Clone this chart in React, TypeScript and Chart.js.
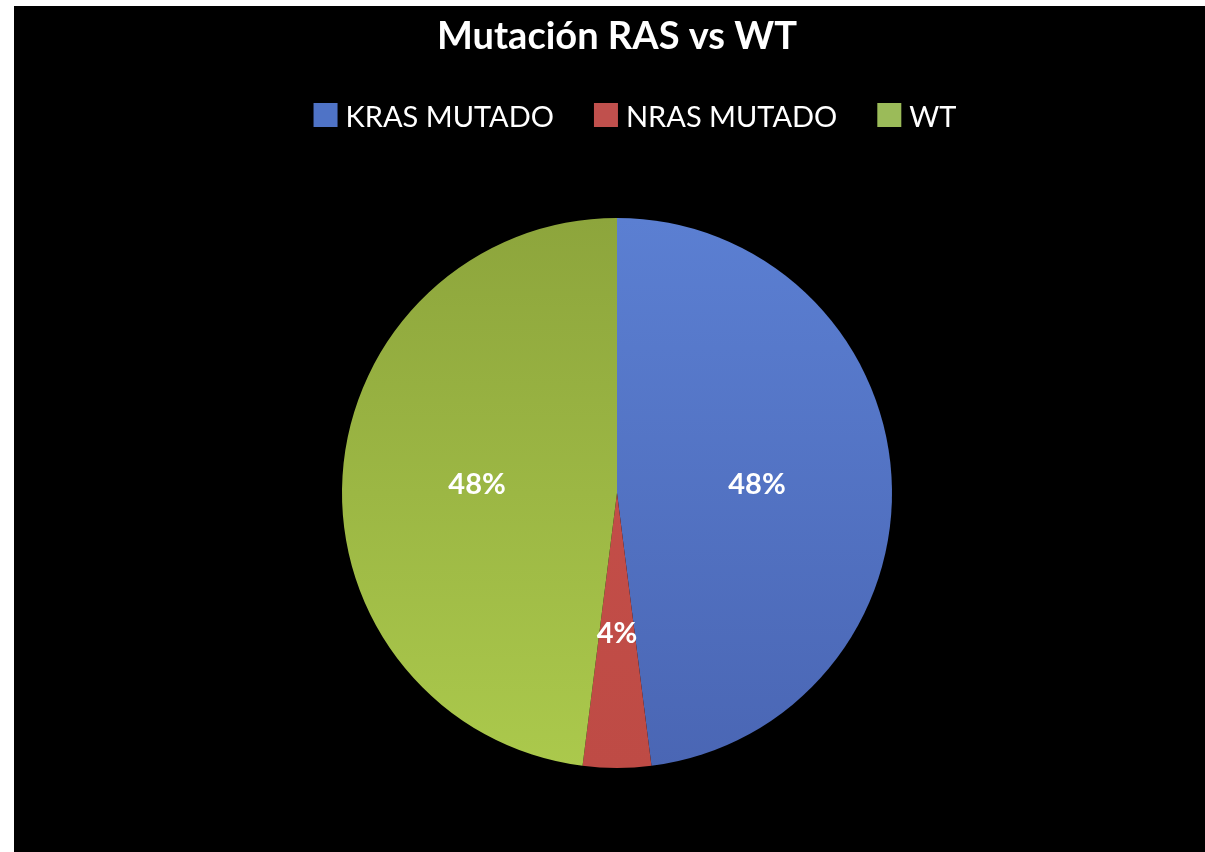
import React, { useEffect, useRef } from "react";
import { Chart, registerables } from "chart.js";

Chart.register(...registerables);

const TITLE = "Mutación RAS vs WT";
const categories = ["KRAS MUTADO", "NRAS MUTADO", "WT"];
const values = [48, 4, 48];
const valueLabels = ["48%", "4%", "48%"];
const colorsTop = ["#5B7FD2", "#C8504B", "#8DA53C"];
const colorsBottom = ["#4A66B4", "#BE4B45", "#ABC94C"];
const legendColors = ["#4F73C6", "#C0504D", "#9BBB59"];

const FONT = "Lato, 'Open Sans', sans-serif";

const dataLabelPlugin = {
  id: "excelDataLabels",
  afterDatasetsDraw(chart: any) {
    const ctx = chart.ctx;
    const meta = chart.getDatasetMeta(0);
    ctx.save();
    ctx.fillStyle = "#ffffff";
    ctx.font = `bold 29px ${FONT}`;
    ctx.textAlign = "center";
    ctx.textBaseline = "middle";
    meta.data.forEach((arc: any, i: number) => {
      const p = arc.getProps(["x", "y", "startAngle", "endAngle", "outerRadius"], true);
      const mid = (p.startAngle + p.endAngle) / 2;
      const r = p.outerRadius * 0.51;
      ctx.fillText(valueLabels[i], p.x + Math.cos(mid) * r, p.y + Math.sin(mid) * r);
    });
    ctx.restore();
  },
};

const legendPlugin = {
  id: "excelLegend",
  afterDraw(chart: any) {
    const ctx = chart.ctx;
    ctx.save();
    const fontSize = 29;
    ctx.font = `${fontSize}px ${FONT}`;
    const box = 24;
    const gap = 8;
    const spacing = 40;
    const widths = categories.map((c) => ctx.measureText(c).width);
    const total =
      widths.reduce((s, w) => s + box + gap + w, 0) + spacing * (categories.length - 1);
    let x = 621 - total / 2;
    const baseline = 121;
    ctx.textBaseline = "alphabetic";
    ctx.textAlign = "left";
    categories.forEach((c, i) => {
      ctx.fillStyle = legendColors[i];
      ctx.fillRect(x, baseline - box, box, box);
      x += box + gap;
      ctx.fillStyle = "#ffffff";
      ctx.fillText(c, x, baseline);
      x += widths[i] + spacing;
    });
    ctx.restore();
  },
};

export default function App() {
  const canvasRef = useRef<HTMLCanvasElement | null>(null);

  useEffect(() => {
    if (!canvasRef.current) return;
    const chart = new Chart(canvasRef.current, {
      type: "pie",
      data: {
        labels: categories,
        datasets: [
          {
            data: values,
            borderWidth: 0,
            backgroundColor: (context: any) => {
              const i = context.dataIndex;
              const area = context.chart.chartArea;
              if (!area) return legendColors[i];
              const g = context.chart.ctx.createLinearGradient(0, area.top, 0, area.bottom);
              g.addColorStop(0, colorsTop[i]);
              g.addColorStop(1, colorsBottom[i]);
              return g;
            },
          },
        ],
      },
      options: {
        animation: false,
        responsive: true,
        maintainAspectRatio: false,
        layout: { padding: { left: 15, right: 0, top: 0, bottom: 84 } },
        plugins: {
          legend: { display: false },
          tooltip: { enabled: false },
          title: {
            display: true,
            text: TITLE,
            color: "#ffffff",
            font: { family: FONT, size: 38, weight: "bold", lineHeight: 1.2 },
            padding: { top: 8, bottom: 158.4 },
          },
        },
      },
      plugins: [dataLabelPlugin, legendPlugin],
    });
    return () => chart.destroy();
  }, []);

  return (
    <div
      style={{
        position: "absolute",
        left: 14,
        top: 6,
        width: 1191,
        height: 846,
        background: "#000000",
      }}
    >
      <canvas ref={canvasRef} />
    </div>
  );
}
